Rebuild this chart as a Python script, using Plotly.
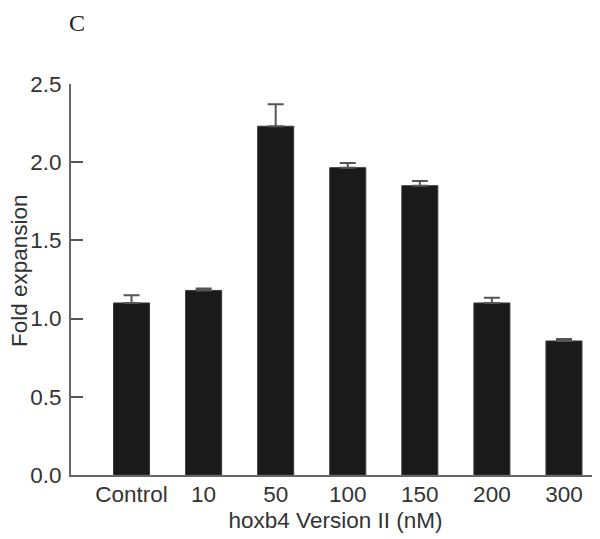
import plotly.graph_objects as go

categories = ["Control", "10", "50", "100", "150", "200", "300"]
fold_expansion = [1.10, 1.18, 2.23, 1.965, 1.85, 1.10, 0.857]
error_upper = [0.05, 0.012, 0.14, 0.03, 0.03, 0.033, 0.012]
y_ticks = [0.0, 0.5, 1.0, 1.5, 2.0, 2.5]

FS = 22.5
TXT = "#333333"

# figure-pixel helpers (plot area: x 63..592, y 76..467 in figure pixels)
L, T, PW, PH = 63, 76, 529, 391


def px(fx):
    return (fx - L) / PW


def py(fy):
    return (T + PH - fy) / PH


fig = go.Figure()
fig.add_trace(go.Bar(
    x=categories,
    y=fold_expansion,
    width=0.5,
    marker=dict(color="#1a1a1a", line=dict(color="#3a3a3a", width=1)),
    error_y=dict(type="data", symmetric=False, array=error_upper,
                 arrayminus=[0] * len(error_upper),
                 color="#555555", thickness=2, width=8),
))

# page has an 8px body margin; compensate so plot area lands at x 71-600, y 84-475
fig.update_layout(
    width=592, height=531,
    margin=dict(l=L, r=0, t=T, b=64),
    plot_bgcolor="white", paper_bgcolor="white",
    showlegend=False,
    font=dict(family="Liberation Sans, Arial, Helvetica, sans-serif", size=FS, color=TXT),
    xaxis=dict(
        type="category",
        range=[-0.84, 6.5],
        showline=True, linecolor="#666666", linewidth=2,
        ticks="", showgrid=False, zeroline=False,
        ticklabelstandoff=-2,
        tickfont=dict(size=FS, color=TXT),
        title=dict(text="hoxb4 Version II (nM)", standoff=6,
                   font=dict(size=FS, color=TXT)),
    ),
    yaxis=dict(
        range=[0, 2.5],
        tickvals=y_ticks, tickformat=".1f",
        ticks="inside", ticklen=12, tickwidth=2, tickcolor="#555555",
        ticklabelstandoff=3,
        showline=True, linecolor="#666666", linewidth=2,
        showgrid=False, zeroline=False,
        tickfont=dict(size=FS, color=TXT),
    ),
    annotations=[
        dict(text="C", xref="paper", yref="paper",
             x=px(69), y=py(0), xanchor="center", yanchor="top", showarrow=False,
             font=dict(family="Liberation Serif, Times New Roman, serif", size=24, color="#222222")),
        dict(text="Fold expansion", xref="paper", yref="paper",
             x=px(11), y=py(263), xanchor="center", yanchor="middle",
             textangle=-90, showarrow=False,
             font=dict(size=FS, color=TXT)),
    ],
)

fig.write_html("out.html")
